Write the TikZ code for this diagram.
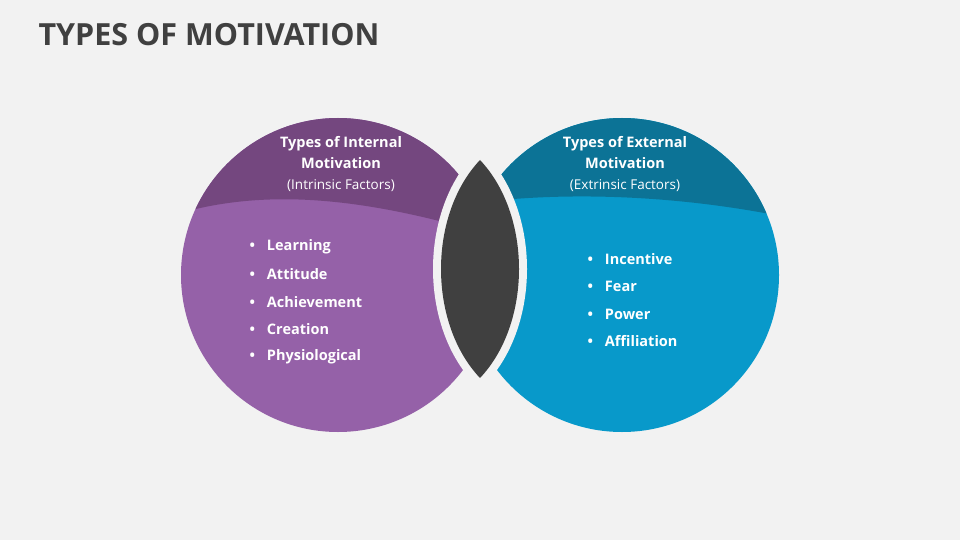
\documentclass[tikz,border=0pt]{standalone}
\usepackage{fontspec}
\setmainfont{Open Sans}
\definecolor{bgcol}{HTML}{F2F2F2}
\definecolor{titlecol}{HTML}{404040}
\definecolor{purptop}{HTML}{74477F}
\definecolor{purpbody}{HTML}{9561A8}
\definecolor{tealtop}{HTML}{0C7396}
\definecolor{tealbody}{HTML}{0899CA}
\definecolor{lenscol}{HTML}{404040}
\tikzset{
  head/.style={text=white, align=center, font=\fontsize{14.5}{21}\selectfont},
  item/.style={text=white, anchor=west, font=\fontsize{14.5}{17}\selectfont\bfseries},
}
\begin{document}
\begin{tikzpicture}[x=1pt, y=-1pt]
    \useasboundingbox (0,0) rectangle (960,540);
    \fill[bgcol] (0,0) rectangle (960,540);
    % Title
    \node[anchor=west, text=titlecol, font=\fontsize{30.5}{34}\selectfont\bfseries] (title) at (35,35) {TYPES OF MOTIVATION};

    % Left circle
    \fill[purpbody] (338,275) circle (157);
    \begin{scope}
      \clip (338,275) circle (157);
      \fill[purptop] (170,216) .. controls (260,188) and (360,195) .. (500,238) -- (500,100) -- (170,100) -- cycle;
    \end{scope}

    % Right circle
    \fill[tealbody] (622,275) circle (157);
    \begin{scope}
      \clip (622,275) circle (157);
      \fill[tealtop] (460,205) .. controls (560,190) and (680,195) .. (790,218) -- (790,100) -- (460,100) -- cycle;
    \end{scope}

    % Lens with gap
    \draw[bgcol, line width=16pt, fill=bgcol] (480,160) .. controls (428,215) and (428,323) .. (480,378) .. controls (532,323) and (532,215) .. (480,160) -- cycle;
    \fill[lenscol] (480,160) .. controls (428,215) and (428,323) .. (480,378) .. controls (532,323) and (532,215) .. (480,160) -- cycle;

    % Headings
    \node[head] (inthead) at (341,164) {\textbf{Types of Internal}\\\textbf{Motivation}\\{\fontsize{13.5}{21}\selectfont(Intrinsic Factors)}};
    \node[head] (exthead) at (625,164) {\textbf{Types of External}\\\textbf{Motivation}\\{\fontsize{13.5}{21}\selectfont(Extrinsic Factors)}};

    % Items
    \foreach \t [count=\i] in {Learning, Attitude, Achievement, Creation, Physiological}
      \node[item] (int\i) at (246,219.5+27.5*\i) {\textbullet\hspace{12pt}\t};
    \foreach \t [count=\i] in {Incentive, Fear, Power, Affiliation}
      \node[item] (ext\i) at (584,231.5+27.5*\i) {\textbullet\hspace{12pt}\t};
\end{tikzpicture}
\end{document}
